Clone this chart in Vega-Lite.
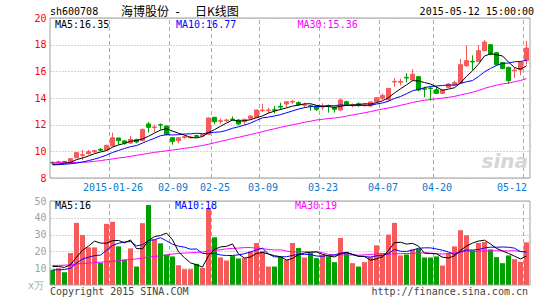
{
"$schema":"https://vega.github.io/schema/vega-lite/v6.json",
"width":480,"height":267,
"autosize":{"type":"none"},
"padding":{"left":50,"top":18,"right":15,"bottom":15},
"background":"#ffffff",
"config":{"view":{"stroke":null},"font":"DejaVu Sans Mono","axis":{"labelFont":"DejaVu Sans Mono","labelFontSize":10,"ticks":false,"domain":false}},
"datasets":{
"g":[{"d":"2015-01-26"},{"d":"2015-02-09"},{"d":"2015-02-25"},{"d":"2015-03-09"},{"d":"2015-03-23"},{"d":"2015-04-07"},{"d":"2015-04-20"},{"d":"2015-05-12"}],
"k":[
{"d":"2015-01-12","o":9.18,"h":9.22,"l":9.05,"c":9.12,"v":9,"m5":9.02,"m10":8.98,"m30":9.15,"vm5":11,"vm10":9,"vm30":11.6},
{"d":"2015-01-13","o":9.18,"h":9.3,"l":9.12,"c":9.22,"v":10,"m5":9.05,"m10":9.0,"m30":9.15,"vm5":11,"vm10":9,"vm30":11.7},
{"d":"2015-01-14","o":9.24,"h":9.28,"l":9.15,"c":9.2,"v":7.6,"m5":9.1,"m10":9.03,"m30":9.15,"vm5":10.5,"vm10":9.2,"vm30":11.8},
{"d":"2015-01-15","o":9.22,"h":9.5,"l":9.05,"c":9.45,"v":19,"m5":9.17,"m10":9.07,"m30":9.16,"vm5":12,"vm10":10,"vm30":12},
{"d":"2015-01-16","o":9.52,"h":9.95,"l":9.5,"c":9.9,"v":37,"m5":9.38,"m10":9.12,"m30":9.17,"vm5":16.52,"vm10":13,"vm30":12.6},
{"d":"2015-01-19","o":9.7,"h":10.1,"l":9.35,"c":9.75,"v":29.8,"m5":9.5,"m10":9.2,"m30":9.18,"vm5":20.68,"vm10":15.5,"vm30":12.8},
{"d":"2015-01-20","o":9.82,"h":10.1,"l":9.75,"c":9.97,"v":22.4,"m5":9.65,"m10":9.3,"m30":9.2,"vm5":23.16,"vm10":16.5,"vm30":13},
{"d":"2015-01-21","o":9.95,"h":10.1,"l":9.9,"c":10.05,"v":22.4,"m5":9.82,"m10":9.42,"m30":9.25,"vm5":26.12,"vm10":17.5,"vm30":13.3},
{"d":"2015-01-22","o":10.15,"h":10.25,"l":10.0,"c":10.08,"v":13.2,"m5":9.95,"m10":9.55,"m30":9.3,"vm5":24.96,"vm10":17.8,"vm30":13.6},
{"d":"2015-01-23","o":10.1,"h":10.5,"l":10.05,"c":10.45,"v":36.4,"m5":10.06,"m10":9.72,"m30":9.37,"vm5":24.84,"vm10":20.68,"vm30":13.8},
{"d":"2015-01-26","o":10.4,"h":11.4,"l":10.35,"c":11.02,"v":37.6,"m5":10.31,"m10":9.91,"m30":9.43,"vm5":26.4,"vm10":23.54,"vm30":14.1},
{"d":"2015-01-27","o":11.0,"h":11.02,"l":10.5,"c":10.8,"v":23,"m5":10.48,"m10":10.07,"m30":9.5,"vm5":26.52,"vm10":24.84,"vm30":14.4},
{"d":"2015-01-28","o":10.78,"h":10.85,"l":10.5,"c":10.62,"v":15.2,"m5":10.59,"m10":10.21,"m30":9.55,"vm5":25.08,"vm10":25.6,"vm30":14.8},
{"d":"2015-01-29","o":10.62,"h":11.15,"l":10.55,"c":10.9,"v":21.8,"m5":10.76,"m10":10.35,"m30":9.62,"vm5":26.8,"vm10":25.88,"vm30":15.2},
{"d":"2015-01-30","o":10.88,"h":10.95,"l":10.6,"c":10.7,"v":11,"m5":10.81,"m10":10.43,"m30":9.7,"vm5":21.72,"vm10":23.28,"vm30":15.5},
{"d":"2015-02-02","o":10.8,"h":11.7,"l":10.75,"c":11.65,"v":36.8,"m5":10.93,"m10":10.62,"m30":9.77,"vm5":21.56,"vm10":23.98,"vm30":16},
{"d":"2015-02-03","o":12.05,"h":12.2,"l":11.4,"c":11.8,"v":47.6,"m5":11.13,"m10":10.81,"m30":9.85,"vm5":26.48,"vm10":26.5,"vm30":16.6},
{"d":"2015-02-04","o":11.78,"h":12.0,"l":11.45,"c":11.82,"v":27,"m5":11.37,"m10":10.98,"m30":9.92,"vm5":28.84,"vm10":26.96,"vm30":17},
{"d":"2015-02-05","o":12.0,"h":12.1,"l":11.62,"c":11.97,"v":24.8,"m5":11.59,"m10":11.17,"m30":9.98,"vm5":29.44,"vm10":28.12,"vm30":17.4},
{"d":"2015-02-06","o":11.9,"h":11.95,"l":11.2,"c":11.25,"v":18.2,"m5":11.7,"m10":11.25,"m30":10.04,"vm5":30.88,"vm10":26.3,"vm30":17.8},
{"d":"2015-02-09","o":11.02,"h":11.05,"l":10.5,"c":10.75,"v":17,"m5":11.52,"m10":11.23,"m30":10.1,"vm5":26.92,"vm10":24.24,"vm30":18.4},
{"d":"2015-02-10","o":10.8,"h":11.05,"l":10.6,"c":11.02,"v":11.8,"m5":11.36,"m10":11.25,"m30":10.16,"vm5":19.76,"vm10":23.12,"vm30":18.8},
{"d":"2015-02-11","o":11.05,"h":11.2,"l":10.95,"c":11.1,"v":9.4,"m5":11.22,"m10":11.3,"m30":10.22,"vm5":16.24,"vm10":22.54,"vm30":19},
{"d":"2015-02-12","o":11.02,"h":11.15,"l":10.95,"c":11.08,"v":9.4,"m5":11.04,"m10":11.31,"m30":10.29,"vm5":13.16,"vm10":21.3,"vm30":19.2},
{"d":"2015-02-13","o":11.18,"h":11.25,"l":11.0,"c":11.12,"v":12.6,"m5":11.01,"m10":11.36,"m30":10.36,"vm5":12.04,"vm10":21.46,"vm30":19.4},
{"d":"2015-02-16","o":11.15,"h":11.3,"l":11.1,"c":11.25,"v":10.2,"m5":11.11,"m10":11.32,"m30":10.44,"vm5":10.68,"vm10":18.8,"vm30":19.6},
{"d":"2015-02-17","o":11.28,"h":12.55,"l":11.25,"c":12.5,"v":45.6,"m5":11.41,"m10":11.39,"m30":10.53,"vm5":17.44,"vm10":18.6,"vm30":20.2},
{"d":"2015-02-25","o":12.55,"h":12.58,"l":12.02,"c":12.22,"v":28.4,"m5":11.63,"m10":11.43,"m30":10.64,"vm5":21.24,"vm10":18.74,"vm30":20.6},
{"d":"2015-02-26","o":12.25,"h":12.45,"l":12.05,"c":12.3,"v":16.4,"m5":11.88,"m10":11.46,"m30":10.75,"vm5":22.64,"vm10":17.9,"vm30":21},
{"d":"2015-02-27","o":12.3,"h":12.45,"l":12.2,"c":12.35,"v":14.6,"m5":12.12,"m10":11.57,"m30":10.85,"vm5":23.04,"vm10":17.54,"vm30":21.51},
{"d":"2015-03-02","o":12.42,"h":12.62,"l":12.3,"c":12.38,"v":17.2,"m5":12.35,"m10":11.73,"m30":10.96,"vm5":24.44,"vm10":17.56,"vm30":21.78},
{"d":"2015-03-03","o":12.35,"h":12.4,"l":11.95,"c":12.05,"v":15.8,"m5":12.26,"m10":11.84,"m30":11.05,"vm5":18.48,"vm10":17.96,"vm30":21.97},
{"d":"2015-03-04","o":12.22,"h":12.45,"l":11.98,"c":12.4,"v":16,"m5":12.3,"m10":11.97,"m30":11.16,"vm5":16.0,"vm10":18.62,"vm30":22.25},
{"d":"2015-03-05","o":12.48,"h":12.7,"l":12.35,"c":12.65,"v":20,"m5":12.37,"m10":12.12,"m30":11.26,"vm5":16.72,"vm10":19.68,"vm30":22.29},
{"d":"2015-03-06","o":12.55,"h":13.12,"l":12.5,"c":13.1,"v":25,"m5":12.52,"m10":12.32,"m30":11.37,"vm5":18.8,"vm10":20.92,"vm30":21.89},
{"d":"2015-03-09","o":13.05,"h":13.55,"l":12.95,"c":13.1,"v":20.2,"m5":12.66,"m10":12.51,"m30":11.48,"vm5":19.4,"vm10":21.92,"vm30":21.57},
{"d":"2015-03-10","o":13.05,"h":13.28,"l":12.85,"c":13.1,"v":11,"m5":12.87,"m10":12.57,"m30":11.59,"vm5":18.44,"vm10":18.46,"vm30":21.19},
{"d":"2015-03-11","o":13.12,"h":13.4,"l":12.85,"c":13.08,"v":11,"m5":13.01,"m10":12.65,"m30":11.69,"vm5":17.44,"vm10":16.72,"vm30":20.81},
{"d":"2015-03-12","o":13.38,"h":13.65,"l":13.1,"c":13.32,"v":17,"m5":13.14,"m10":12.75,"m30":11.8,"vm5":16.84,"vm10":16.78,"vm30":20.93},
{"d":"2015-03-13","o":13.55,"h":13.75,"l":13.3,"c":13.72,"v":15,"m5":13.26,"m10":12.89,"m30":11.9,"vm5":14.84,"vm10":16.82,"vm30":20.22},
{"d":"2015-03-16","o":13.7,"h":13.85,"l":13.55,"c":13.74,"v":25,"m5":13.39,"m10":13.03,"m30":11.99,"vm5":15.8,"vm10":17.6,"vm30":19.8},
{"d":"2015-03-17","o":13.65,"h":13.75,"l":13.4,"c":13.5,"v":22,"m5":13.47,"m10":13.17,"m30":12.08,"vm5":18.0,"vm10":18.22,"vm30":19.77},
{"d":"2015-03-18","o":13.45,"h":13.65,"l":13.25,"c":13.5,"v":16.4,"m5":13.56,"m10":13.28,"m30":12.18,"vm5":19.08,"vm10":18.26,"vm30":19.81},
{"d":"2015-03-19","o":13.42,"h":13.5,"l":13.05,"c":13.38,"v":19,"m5":13.57,"m10":13.35,"m30":12.26,"vm5":19.48,"vm10":18.16,"vm30":19.71},
{"d":"2015-03-20","o":13.4,"h":13.45,"l":13.02,"c":13.15,"v":16,"m5":13.45,"m10":13.36,"m30":12.35,"vm5":19.68,"vm10":17.26,"vm30":19.88},
{"d":"2015-03-23","o":13.32,"h":13.6,"l":13.1,"c":13.36,"v":18,"m5":13.38,"m10":13.39,"m30":12.4,"vm5":18.28,"vm10":17.04,"vm30":19.25},
{"d":"2015-03-24","o":13.44,"h":13.5,"l":12.9,"c":13.4,"v":17,"m5":13.36,"m10":13.42,"m30":12.46,"vm5":17.28,"vm10":17.64,"vm30":18.23},
{"d":"2015-03-25","o":13.3,"h":13.38,"l":12.9,"c":13.15,"v":13.6,"m5":13.29,"m10":13.42,"m30":12.5,"vm5":16.72,"vm10":17.9,"vm30":17.79},
{"d":"2015-03-26","o":13.1,"h":13.97,"l":13.0,"c":13.85,"v":28,"m5":13.38,"m10":13.48,"m30":12.56,"vm5":18.52,"vm10":19.0,"vm30":17.89},
{"d":"2015-03-27","o":13.72,"h":13.8,"l":13.4,"c":13.48,"v":19.6,"m5":13.45,"m10":13.45,"m30":12.64,"vm5":19.24,"vm10":19.46,"vm30":17.94},
{"d":"2015-03-30","o":13.45,"h":13.6,"l":13.3,"c":13.5,"v":13,"m5":13.48,"m10":13.43,"m30":12.73,"vm5":18.24,"vm10":18.26,"vm30":17.81},
{"d":"2015-03-31","o":13.57,"h":13.68,"l":13.35,"c":13.52,"v":11,"m5":13.5,"m10":13.43,"m30":12.81,"vm5":17.04,"vm10":17.16,"vm30":17.78},
{"d":"2015-04-01","o":13.45,"h":13.6,"l":13.35,"c":13.5,"v":13.6,"m5":13.57,"m10":13.43,"m30":12.89,"vm5":17.04,"vm10":16.88,"vm30":17.92},
{"d":"2015-04-02","o":13.4,"h":13.75,"l":13.35,"c":13.7,"v":16.6,"m5":13.54,"m10":13.46,"m30":12.98,"vm5":14.76,"vm10":16.64,"vm30":18.16},
{"d":"2015-04-03","o":13.72,"h":14.05,"l":13.65,"c":14.02,"v":23.6,"m5":13.65,"m10":13.55,"m30":13.08,"vm5":15.56,"vm10":17.4,"vm30":18.53},
{"d":"2015-04-07","o":13.98,"h":14.35,"l":13.85,"c":14.2,"v":19,"m5":13.79,"m10":13.63,"m30":13.17,"vm5":16.76,"vm10":17.5,"vm30":18.82},
{"d":"2015-04-08","o":13.85,"h":14.75,"l":13.8,"c":14.72,"v":30,"m5":14.03,"m10":13.76,"m30":13.25,"vm5":20.56,"vm10":18.8,"vm30":18.3},
{"d":"2015-04-09","o":15.2,"h":15.5,"l":14.85,"c":15.25,"v":37,"m5":14.38,"m10":13.97,"m30":13.35,"vm5":25.24,"vm10":21.14,"vm30":18.59},
{"d":"2015-04-10","o":15.18,"h":15.45,"l":14.95,"c":15.25,"v":17.6,"m5":14.69,"m10":14.11,"m30":13.45,"vm5":25.44,"vm10":20.1,"vm30":18.63},
{"d":"2015-04-13","o":15.55,"h":15.85,"l":15.17,"c":15.5,"v":18.2,"m5":14.98,"m10":14.32,"m30":13.55,"vm5":24.36,"vm10":19.96,"vm30":18.75},
{"d":"2015-04-14","o":15.35,"h":16.17,"l":15.3,"c":15.78,"v":21.2,"m5":15.3,"m10":14.54,"m30":13.67,"vm5":24.8,"vm10":20.78,"vm30":18.88},
{"d":"2015-04-15","o":15.6,"h":15.65,"l":14.5,"c":14.6,"v":21.6,"m5":15.28,"m10":14.65,"m30":13.75,"vm5":23.12,"vm10":21.84,"vm30":19.07},
{"d":"2015-04-16","o":14.7,"h":14.85,"l":14.05,"c":14.65,"v":16.4,"m5":15.16,"m10":14.77,"m30":13.83,"vm5":19.0,"vm10":22.12,"vm30":19.09},
{"d":"2015-04-17","o":14.75,"h":14.85,"l":13.8,"c":14.7,"v":16.4,"m5":15.05,"m10":14.87,"m30":13.89,"vm5":18.76,"vm10":22.1,"vm30":18.97},
{"d":"2015-04-20","o":14.62,"h":14.85,"l":14.3,"c":14.35,"v":17,"m5":14.82,"m10":14.9,"m30":13.94,"vm5":18.52,"vm10":21.44,"vm30":18.7},
{"d":"2015-04-21","o":14.35,"h":14.65,"l":14.3,"c":14.6,"v":11.6,"m5":14.58,"m10":14.94,"m30":13.99,"vm5":16.6,"vm10":20.7,"vm30":18.41},
{"d":"2015-04-22","o":14.8,"h":15.1,"l":14.75,"c":15.05,"v":19,"m5":14.67,"m10":14.97,"m30":14.05,"vm5":16.08,"vm10":19.6,"vm30":18.68},
{"d":"2015-04-23","o":15.0,"h":15.3,"l":14.9,"c":15.15,"v":23,"m5":14.77,"m10":14.96,"m30":14.12,"vm5":17.4,"vm10":18.2,"vm30":19.08},
{"d":"2015-04-24","o":15.12,"h":16.92,"l":15.05,"c":16.5,"v":32.6,"m5":15.13,"m10":15.09,"m30":14.23,"vm5":20.64,"vm10":19.7,"vm30":19.6},
{"d":"2015-04-27","o":16.42,"h":17.95,"l":16.35,"c":16.8,"v":29.6,"m5":15.62,"m10":15.22,"m30":14.33,"vm5":23.16,"vm10":20.84,"vm30":20.09},
{"d":"2015-04-28","o":16.75,"h":17.2,"l":16.1,"c":16.7,"v":20.6,"m5":16.04,"m10":15.31,"m30":14.43,"vm5":24.96,"vm10":20.78,"vm30":19.94},
{"d":"2015-04-29","o":16.75,"h":17.97,"l":16.7,"c":17.55,"v":25,"m5":16.54,"m10":15.61,"m30":14.56,"vm5":26.16,"vm10":21.12,"vm30":20.04},
{"d":"2015-04-30","o":17.55,"h":18.35,"l":17.5,"c":18.2,"v":25.6,"m5":17.15,"m10":15.96,"m30":14.72,"vm5":26.68,"vm10":22.04,"vm30":20.35},
{"d":"2015-05-04","o":18.0,"h":18.05,"l":17.2,"c":17.3,"v":21.2,"m5":17.31,"m10":16.22,"m30":14.85,"vm5":24.4,"vm10":22.52,"vm30":20.42},
{"d":"2015-05-05","o":17.4,"h":17.45,"l":16.45,"c":16.5,"v":16.6,"m5":17.25,"m10":16.44,"m30":14.96,"vm5":21.8,"vm10":22.48,"vm30":20.44},
{"d":"2015-05-06","o":16.65,"h":16.7,"l":16.15,"c":16.2,"v":13,"m5":17.15,"m10":16.6,"m30":15.06,"vm5":20.28,"vm10":22.62,"vm30":20.27},
{"d":"2015-05-07","o":16.3,"h":16.35,"l":15.05,"c":15.3,"v":17.6,"m5":16.7,"m10":16.62,"m30":15.12,"vm5":18.8,"vm10":22.48,"vm30":20.29},
{"d":"2015-05-08","o":16.05,"h":16.3,"l":15.5,"c":16.1,"v":15.4,"m5":16.28,"m10":16.72,"m30":15.22,"vm5":17.16,"vm10":21.92,"vm30":20.42},
{"d":"2015-05-11","o":16.12,"h":16.75,"l":15.7,"c":16.7,"v":13.8,"m5":16.16,"m10":16.74,"m30":15.31,"vm5":15.48,"vm10":19.94,"vm30":19.91},
{"d":"2015-05-12","o":16.8,"h":18.3,"l":16.5,"c":17.75,"v":25.4,"m5":16.41,"m10":16.83,"m30":15.45,"vm5":17.24,"vm10":19.52,"vm30":20.11}
]},
"layer":[
{"layer":[
 {"data":{"name":"k"},"mark":{"type":"rule","strokeWidth":1,"xOffset":-0.5},
  "encoding":{
   "x":{"field":"d","type":"ordinal","title":null,"scale":{"type":"band","paddingInner":0,"paddingOuter":0},
        "axis":{"orient":"bottom","offset":-107,"title":null,"grid":false,"bandPosition":0,"labelAngle":0,"labelPadding":4,"labelColor":"#0d7ad0","labelOverlap":false,
                "labelAlign":{"expr":"datum.value == '2015-05-12' ? 'right' : 'center'"},
                "values":["2015-01-26","2015-02-09","2015-02-25","2015-03-09","2015-03-23","2015-04-07","2015-04-20","2015-05-12"],
                "labelExpr":"datum.value == '2015-01-26' ? datum.value : slice(datum.value, 5)"}},
   "y":{"field":"l","type":"quantitative","title":null,"scale":{"domain":[8,20],"range":[160,0],"nice":false,"zero":false},
        "axis":{"orient":"left","title":null,"values":[8,10,12,14,16,18,20],"labelColor":"#ff0000","labelPadding":4,"grid":true,"gridColor":"#aaaaaa","gridDash":[1,2]}},
   "y2":{"field":"h"},
   "color":{"condition":{"test":"datum.c >= datum.o","value":"#f65a5a"},"value":"#00a000"}}},
 {"data":{"name":"g"},"mark":{"type":"rule","color":"#aaaaaa","strokeDash":[4,3],"strokeWidth":1,"xOffset":-0.5},
  "encoding":{
   "x":{"field":"d","type":"ordinal","title":null,"bandPosition":0},
   "y":{"datum":8,"type":"quantitative","title":null},
   "y2":{"datum":20}}},
 {"data":{"name":"k"},"mark":{"type":"bar","width":{"band":0.667},"strokeWidth":1,"xOffset":-0.5},
  "encoding":{"x":{"field":"d","type":"ordinal","title":null},"y":{"field":"o","type":"quantitative","title":null},"y2":{"field":"c"},
   "fill":{"condition":{"test":"datum.c >= datum.o","value":"#f65a5a"},"value":"#00a000"},
   "stroke":{"condition":{"test":"datum.c >= datum.o","value":"#f65a5a"},"value":"#00a000"}}},
 {"data":{"name":"k"},"mark":{"type":"line","color":"#ff00ff","strokeWidth":1,"xOffset":-0.5},
  "encoding":{"x":{"field":"d","type":"ordinal","title":null},"y":{"field":"m30","type":"quantitative","title":null}}},
 {"data":{"name":"k"},"mark":{"type":"line","color":"#0000ff","strokeWidth":1,"xOffset":-0.5},
  "encoding":{"x":{"field":"d","type":"ordinal","title":null},"y":{"field":"m10","type":"quantitative","title":null}}},
 {"data":{"name":"k"},"mark":{"type":"line","color":"#000000","strokeWidth":1,"xOffset":-0.5},
  "encoding":{"x":{"field":"d","type":"ordinal","title":null},"y":{"field":"m5","type":"quantitative","title":null}}},
 {"data":{"values":[{"b":1}]},"mark":{"type":"rect","fillOpacity":0,"stroke":"#a0a0a0","strokeWidth":1},
  "encoding":{"y":{"datum":8,"type":"quantitative","title":null},"y2":{"datum":20}}},
 {"data":{"values":[{"d":"2015-05-12","t":"sina"}]},"mark":{"type":"text","align":"right","baseline":"middle","dx":4,"font":"DejaVu Sans","fontSize":20,"fontWeight":"bold","fontStyle":"italic","fill":"#d6d6d6"},
  "encoding":{"x":{"field":"d","type":"ordinal","title":null,"bandPosition":0},"y":{"datum":9.2,"type":"quantitative","title":null},"text":{"field":"t"}}},
 {"data":{"values":[{"d":"2015-01-12","t":"sh600708"}]},"mark":{"type":"text","align":"left","baseline":"middle","dy":-6,"fontSize":10,"fill":"#000000"},
  "encoding":{"x":{"field":"d","type":"ordinal","title":null,"bandPosition":0},"y":{"datum":20,"type":"quantitative","title":null},"text":{"field":"t"}}},
 {"data":{"values":[{"d":"2015-01-12","t":"海博股份"}]},"mark":{"type":"text","align":"left","baseline":"middle","dx":71,"dy":-6,"font":"Noto Sans CJK SC","fontSize":12,"fill":"#000000"},
  "encoding":{"x":{"field":"d","type":"ordinal","title":null,"bandPosition":0},"y":{"datum":20,"type":"quantitative","title":null},"text":{"field":"t"}}},
 {"data":{"values":[{"d":"2015-01-12","t":"-"}]},"mark":{"type":"text","align":"left","baseline":"middle","dx":124,"dy":-6,"font":"DejaVu Sans Mono","fontSize":12,"fill":"#000000"},
  "encoding":{"x":{"field":"d","type":"ordinal","title":null,"bandPosition":0},"y":{"datum":20,"type":"quantitative","title":null},"text":{"field":"t"}}},
 {"data":{"values":[{"d":"2015-01-12","t":"日K线图"}]},"mark":{"type":"text","align":"left","baseline":"middle","dx":145,"dy":-6,"font":"Noto Sans CJK SC","fontSize":12,"fill":"#000000"},
  "encoding":{"x":{"field":"d","type":"ordinal","title":null,"bandPosition":0},"y":{"datum":20,"type":"quantitative","title":null},"text":{"field":"t"}}},
 {"data":{"values":[{"d":"2015-05-12","t":"2015-05-12 15:00:00"}]},"mark":{"type":"text","align":"right","baseline":"middle","dx":10,"dy":-6,"fontSize":10,"fill":"#000000"},
  "encoding":{"x":{"field":"d","type":"ordinal","title":null,"bandPosition":0},"y":{"datum":20,"type":"quantitative","title":null},"text":{"field":"t"}}},
 {"data":{"values":[{"d":"2015-01-12","t":"MA5:16.35"}]},"mark":{"type":"text","align":"left","baseline":"middle","dx":5,"dy":7,"fontSize":10,"fill":"#000000"},
  "encoding":{"x":{"field":"d","type":"ordinal","title":null,"bandPosition":0},"y":{"datum":20,"type":"quantitative","title":null},"text":{"field":"t"}}},
 {"data":{"values":[{"d":"2015-02-10","t":"MA10:16.77"}]},"mark":{"type":"text","align":"left","baseline":"middle","dx":0,"dy":7,"fontSize":10,"fill":"#0000ff"},
  "encoding":{"x":{"field":"d","type":"ordinal","title":null,"bandPosition":0},"y":{"datum":20,"type":"quantitative","title":null},"text":{"field":"t"}}},
 {"data":{"values":[{"d":"2015-03-17","t":"MA30:15.36"}]},"mark":{"type":"text","align":"left","baseline":"middle","dx":1.5,"dy":7,"fontSize":10,"fill":"#ff00ff"},
  "encoding":{"x":{"field":"d","type":"ordinal","title":null,"bandPosition":0},"y":{"datum":20,"type":"quantitative","title":null},"text":{"field":"t"}}}
]},
{"layer":[
 {"data":{"name":"k"},"mark":{"type":"bar","width":{"band":0.833},"xOffset":-0.5},
  "encoding":{"x":{"field":"d","type":"ordinal","title":null},
   "y":{"field":"v","type":"quantitative","title":null,"scale":{"domain":[0,50],"range":[267,183],"nice":false},
        "axis":{"orient":"left","title":null,"values":[10,20,30,40,50],"labelColor":"#a0a0a0","labelPadding":4,"grid":true,"gridColor":"#aaaaaa","gridDash":[1,2]}},
   "fill":{"condition":{"test":"datum.c >= datum.o","value":"#f65a5a"},"value":"#00a000"}}},
 {"data":{"name":"g"},"mark":{"type":"rule","color":"#aaaaaa","strokeDash":[4,3],"strokeWidth":1,"xOffset":-0.5},
  "encoding":{
   "x":{"field":"d","type":"ordinal","title":null,"bandPosition":0},
   "y":{"datum":0,"type":"quantitative","title":null},
   "y2":{"datum":50}}},
 {"data":{"name":"k"},"mark":{"type":"line","color":"#ff00ff","strokeWidth":1,"xOffset":-0.5},
  "encoding":{"x":{"field":"d","type":"ordinal","title":null},"y":{"field":"vm30","type":"quantitative","title":null}}},
 {"data":{"name":"k"},"mark":{"type":"line","color":"#0000ff","strokeWidth":1,"xOffset":-0.5},
  "encoding":{"x":{"field":"d","type":"ordinal","title":null},"y":{"field":"vm10","type":"quantitative","title":null}}},
 {"data":{"name":"k"},"mark":{"type":"line","color":"#000000","strokeWidth":1,"xOffset":-0.5},
  "encoding":{"x":{"field":"d","type":"ordinal","title":null},"y":{"field":"vm5","type":"quantitative","title":null}}},
 {"data":{"values":[{"b":1}]},"mark":{"type":"rect","fillOpacity":0,"stroke":"#a0a0a0","strokeWidth":1},
  "encoding":{"y":{"datum":0,"type":"quantitative","title":null},"y2":{"datum":50}}},
 {"data":{"values":[{"d":"2015-01-12","t":"MA5:16"}]},"mark":{"type":"text","align":"left","baseline":"middle","dx":5,"dy":5,"fontSize":10,"fill":"#000000"},
  "encoding":{"x":{"field":"d","type":"ordinal","title":null,"bandPosition":0},"y":{"datum":50,"type":"quantitative","title":null},"text":{"field":"t"}}},
 {"data":{"values":[{"d":"2015-02-10","t":"MA10:18"}]},"mark":{"type":"text","align":"left","baseline":"middle","dx":-1,"dy":5,"fontSize":10,"fill":"#0000ff"},
  "encoding":{"x":{"field":"d","type":"ordinal","title":null,"bandPosition":0},"y":{"datum":50,"type":"quantitative","title":null},"text":{"field":"t"}}},
 {"data":{"values":[{"d":"2015-03-17","t":"MA30:19"}]},"mark":{"type":"text","align":"left","baseline":"middle","dx":-1,"dy":5,"fontSize":10,"fill":"#ff00ff"},
  "encoding":{"x":{"field":"d","type":"ordinal","title":null,"bandPosition":0},"y":{"datum":50,"type":"quantitative","title":null},"text":{"field":"t"}}},
 {"data":{"values":[{"d":"2015-01-12","t":"Copyright 2015 SINA.COM"}]},"mark":{"type":"text","align":"left","baseline":"middle","dx":0,"dy":7,"fontSize":10,"fill":"#444444"},
  "encoding":{"x":{"field":"d","type":"ordinal","title":null,"bandPosition":0},"y":{"datum":0,"type":"quantitative","title":null},"text":{"field":"t"}}},
 {"data":{"values":[{"d":"2015-05-12","t":"http://finance.sina.com.cn"}]},"mark":{"type":"text","align":"right","baseline":"middle","dx":4,"dy":7,"fontSize":10,"fill":"#444444"},
  "encoding":{"x":{"field":"d","type":"ordinal","title":null,"bandPosition":0},"y":{"datum":0,"type":"quantitative","title":null},"text":{"field":"t"}}},
 {"data":{"values":[{"d":"2015-01-12","t":"x万"}]},"mark":{"type":"text","align":"right","baseline":"middle","dx":-6,"dy":1,"fontSize":10,"fill":"#aaaaaa"},
  "encoding":{"x":{"field":"d","type":"ordinal","title":null,"bandPosition":0},"y":{"datum":0,"type":"quantitative","title":null},"text":{"field":"t"}}}
]}
],
"resolve":{"scale":{"y":"independent"},"axis":{"y":"independent"}}
}
